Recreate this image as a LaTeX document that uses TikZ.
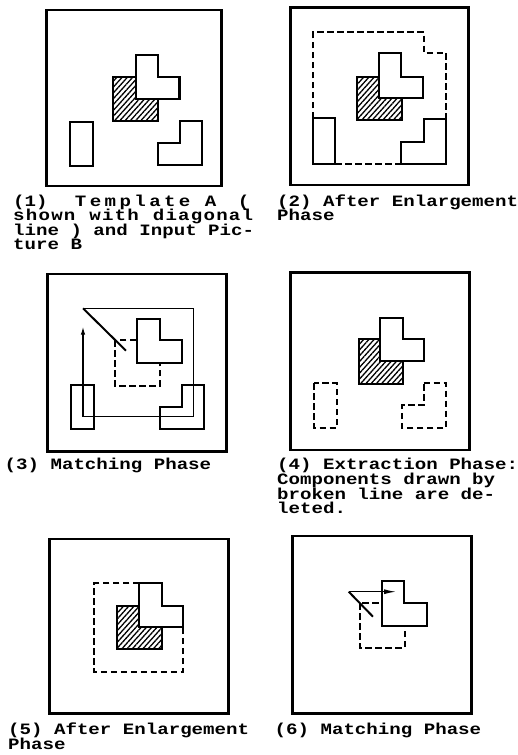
\documentclass[tikz,border=0pt]{standalone}
\usepackage{fontspec}
\newfontfamily\capfont{Liberation Mono}[FakeStretch=1.21]
\usetikzlibrary{arrows.meta,patterns.meta}
\tikzset{
  frame/.style={line width=2.8pt},
  outl/.style={line width=2.1pt, line join=miter},
  solidfill/.style={outl, fill=white},
  brk/.style={line width=2pt, dash pattern=on 6.5pt off 3.5pt},
  hatch/.style={outl, pattern={Lines[angle=48,distance=3.9pt,line width=1.3pt]}},
  thinline/.style={line width=1.2pt},
  diag/.style={line width=2pt},
  captxt/.style={anchor=base west, inner sep=0pt, font=\capfont\bfseries\fontsize{15.8}{15}\selectfont}
}
\begin{document}
\begin{tikzpicture}[x=1pt,y=-1pt]
\useasboundingbox (0,0) rectangle (518,755);
\fill[white] (0,0) rectangle (518,755);

% ---------- Panel 1 ----------
\draw[frame] (46.7,10) rectangle (221.7,186);
\draw[hatch] (113.3,77.3) rectangle (158.3,121);
\draw[solidfill] (135.7,55) -- (158.3,55) -- (158.3,77.3) -- (179.5,77.3) -- (179.5,98.8) -- (135.7,98.8) -- cycle;
\draw[outl] (70,122) rectangle (93,166);
\draw[outl] (180,121) -- (202,121) -- (202,165) -- (158,165) -- (158,143) -- (180,143) -- cycle;

% ---------- Panel 2 ----------
\draw[frame] (290.3,7.3) rectangle (468.7,185);
\draw[brk] (313,118.3) -- (313,32.3) -- (423.7,32.3) -- (423.7,52.7) -- (446.3,52.7) -- (446.3,119);
\draw[brk] (335.3,164) -- (401.3,164);
\draw[hatch] (357,76.7) rectangle (402,120);
\draw[solidfill] (378.7,53.3) -- (401.3,53.3) -- (401.3,76.7) -- (423,76.7) -- (423,98.3) -- (378.7,98.3) -- cycle;
\draw[outl] (313,118.3) rectangle (335.3,164);
\draw[outl] (423.7,119) -- (446.3,119) -- (446.3,164) -- (401.3,164) -- (401.3,141.7) -- (423.7,141.7) -- cycle;

% ---------- Panel 3 ----------
\draw[frame] (47.7,274) rectangle (226.7,451.7);
\draw[brk] (115,340) rectangle (160,385.7);
\draw[solidfill] (137.3,319) -- (160,319) -- (160,340) -- (182.3,340) -- (182.3,363.3) -- (137.3,363.3) -- cycle;
\draw[outl] (71,385) rectangle (94,429);
\draw[outl] (182.3,385) -- (204,385) -- (204,429) -- (160,429) -- (160,406.7) -- (182.3,406.7) -- cycle;
\coordinate (p3a) at (83,308.3);
\coordinate (p3b) at (193.3,308.3);
\coordinate (p3c) at (193.3,416.7);
\coordinate (p3d) at (83,416.7);
\coordinate (p3e) at (83,326.7);
\coordinate (p3f) at (126,350.7);
\draw[thinline, -{Latex[length=8pt,width=4.5pt]}] (p3a) -- (p3b) -- (p3c) -- (p3d) -- (p3e);
\draw[diag] (p3a) -- (p3f);

% ---------- Panel 4 ----------
\draw[frame] (290.3,272.3) rectangle (469.7,450);
\draw[hatch] (358.7,339) rectangle (403,384);
\draw[solidfill] (380,317.7) -- (403,317.7) -- (403,339.3) -- (423.7,339.3) -- (423.7,361) -- (380,361) -- cycle;
\draw[brk] (314,383.3) rectangle (337,427.7);
\draw[brk] (423.7,383.3) -- (446.3,383.3) -- (446.3,427.7) -- (402,427.7) -- (402,405) -- (423.7,405) -- cycle;

% ---------- Panel 5 ----------
\draw[frame] (49.3,539) rectangle (228.3,713.3);
\draw[brk] (139.3,583.3) -- (94.3,583.3) -- (94.3,671.7) -- (183.3,671.7) -- (183.3,626.7);
\draw[hatch] (116.7,606) rectangle (161.7,649.3);
\draw[solidfill] (139.3,583.3) -- (161.7,583.3) -- (161.7,606) -- (183.3,606) -- (183.3,626.7) -- (139.3,626.7) -- cycle;

% ---------- Panel 6 ----------
\draw[frame] (292.3,536) rectangle (471.3,713.3);
\draw[brk] (359.7,603.3) rectangle (404.7,647.7);
\draw[solidfill] (382,580.7) -- (403.7,580.7) -- (403.7,602.8) -- (427,602.8) -- (427,625.7) -- (382,625.7) -- cycle;
\coordinate (p6a) at (348.7,591.7);
\coordinate (p6b) at (396,591.7);
\coordinate (p6c) at (373,616.7);
\draw[thinline, -{Latex[length=12pt,width=5pt]}] (p6a) -- (p6b);
\draw[diag] (p6a) -- (p6c);

% ---------- Captions ----------
\node[captxt] (c1a) at (13,206) {(1)\hspace{27.3pt}T\kern3.4pt e\kern3.4pt m\kern3.4pt p\kern3.4pt l\kern3.4pt a\kern3.4pt t\kern3.4pt e\hspace{14.3pt}A\hspace{21.7pt}(};
\node[captxt] (c1b) at (13,220.5) {\makebox[240pt][s]{s\hfil h\hfil o\hfil w\hfil n\hfil\ \hfil w\hfil i\hfil t\hfil h\hfil\ \hfil d\hfil i\hfil a\hfil g\hfil o\hfil n\hfil a\hfil l}};
\node[captxt] (c1c) at (13,235) {line ) and Input Pic-};
\node[captxt] (c1d) at (13,249.5) {ture B};

\node[captxt] (c2a) at (277,206) {(2) After Enlargement};
\node[captxt] (c2b) at (277,220.5) {Phase};

\node[captxt] (c3a) at (4.5,469.5) {(3) Matching Phase};

\node[captxt] (c4a) at (277,469.5) {(4) Extraction Phase:};
\node[captxt] (c4b) at (277,484.3) {Components drawn by};
\node[captxt] (c4c) at (277,499.1) {broken line are de-};
\node[captxt] (c4d) at (277,513.9) {leted.};

\node[captxt] (c5a) at (8,734) {(5) After Enlargement};
\node[captxt] (c5b) at (8,749) {Phase};

\node[captxt] (c6a) at (274.5,734) {(6) Matching Phase};
\end{tikzpicture}
\end{document}
